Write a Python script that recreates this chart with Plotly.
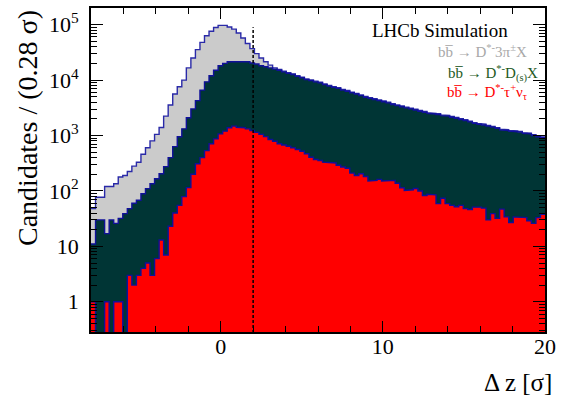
import numpy as np
import plotly.graph_objects as go

# ---- data: 100 bins of width 0.28 sigma from -8 to 20 ----
x_lo, x_hi, n_bins = -8.0, 20.0, 100

gray_counts = [48, 77, 77, 120, 120, 135, 178, 190, 225, 280,
               330, 460, 600, 800, 1050, 1400, 2240, 3550, 5600, 7600,
               10000, 16600, 25000, 35500, 48000, 63000, 76000, 89000, 97000, 97000,
               91000, 83000, 71000, 57500, 45700, 37000, 30000, 25000, 21400, 18600,
               16600, 15500, 14500, 13600, 12950, 12050, 11300, 10500, 10100, 9580,
               9170, 8550, 8030, 7620, 7310, 6800, 6490, 6080, 5770, 5410,
               5050, 4820, 4600, 4400, 4190, 4010, 3740, 3570, 3410, 3250,
               3110, 2970, 2830, 2710, 2590, 2520, 2470, 2360, 2310, 2200,
               2110, 2010, 1920, 1810, 1710, 1650, 1600, 1520, 1460, 1390,
               1300, 1270, 1240, 1210, 1180, 1130, 1100, 1030, 980, 940]

green_counts = [11, 30, 30, 17, 30, 26, 32, 39, 48, 60,
                68, 89, 110, 135, 166, 204, 275, 400, 630, 950,
                1320, 2090, 3020, 4270, 6600, 9300, 12000, 15100, 18200, 20000,
                21400, 21900, 21900, 21400, 21400, 20400, 19500, 18200, 17400, 16600,
                15800, 15100, 14100, 13200, 12600, 11700, 11000, 10200, 9800, 9300,
                8900, 8300, 7800, 7400, 7100, 6600, 6300, 5900, 5600, 5250,
                4900, 4680, 4470, 4270, 4070, 3890, 3630, 3470, 3310, 3160,
                3020, 2880, 2750, 2630, 2510, 2450, 2400, 2290, 2240, 2140,
                2050, 1950, 1860, 1760, 1660, 1600, 1550, 1480, 1420, 1350,
                1260, 1230, 1200, 1170, 1150, 1100, 1070, 1000, 950, 910]

red_counts = [1, 0, 0, 1, 0, 1, 1, 0, 3, 2,
              3, 4, 5, 3, 6, 13, 7, 23, 40, 55,
              79, 115, 200, 310, 400, 535, 710, 870, 1070, 1200,
              1380, 1480, 1410, 1380, 1320, 1230, 1140, 1050, 955, 850,
              790, 710, 675, 640, 600, 560, 520, 470, 405, 370,
              355, 330, 330, 320, 290, 270, 257, 210, 190, 204,
              182, 151, 155, 162, 151, 151, 155, 138, 114, 102,
              105, 111, 100, 83, 87, 85, 59, 74, 59, 55,
              52, 55, 48, 46, 51, 51, 49, 30, 39, 32,
              47, 34, 27, 34, 33, 33, 29, 26, 33, 38]

y_tick_vals = [1, 10, 100, 1000, 10000, 100000]
y_tick_text = ["1", "10", "10<sup>2</sup>", "10<sup>3</sup>", "10<sup>4</sup>", "10<sup>5</sup>"]
x_tick_vals = [0, 10, 20]
cut_value = 2.0

legend_lines = [
    ("bb\u0305 \u2192 D<sup>*-</sup>3\u03c0<sup>\u00b1</sup>X", "#a8a8a8"),
    ("bb\u0305 \u2192 D<sup>*-</sup>D<sub>(s)</sub>X", "#1e5a1e"),
    ("bb\u0305 \u2192 D<sup>*-</sup>\u03c4<sup>+</sup>\u03bd<sub>\u03c4</sub>", "#ff0000"),
]

FONT = "Liberation Serif, Times New Roman, Times, serif"
edges = np.linspace(x_lo, x_hi, n_bins + 1)
floor = 1e-3


def step_xy(vals):
    v = np.asarray(vals, dtype=float)
    v = np.where(v > 0, v, floor)
    xs = np.repeat(edges, 2)[1:-1]
    ys = np.repeat(v, 2)
    return xs, ys


fig = go.Figure()
for vals, fill, line in [(gray_counts, "#cbcbcb", "#2a2aa8"),
                         (green_counts, "#003535", "#10109a"),
                         (red_counts, "#ff0000", "#10109a")]:
    xs, ys = step_xy(vals)
    px = np.concatenate([[x_lo], xs, [x_hi]])
    py = np.concatenate([[floor], ys, [floor]])
    fig.add_trace(go.Scatter(x=px, y=py, mode="lines", fill="toself",
                             fillcolor=fill, line=dict(width=0),
                             hoverinfo="skip", showlegend=False))
    fig.add_trace(go.Scatter(x=xs, y=ys, mode="lines",
                             line=dict(color=line, width=1.4),
                             hoverinfo="skip", showlegend=False))

fig.add_trace(go.Scatter(x=[cut_value, cut_value], y=[floor, 9.0e4], mode="lines",
                         line=dict(color="black", width=1.5, dash="3px,2px"),
                         hoverinfo="skip", showlegend=False))

minor_y = [m * 10 ** e for e in range(-1, 6) for m in range(2, 10)]

fig.update_layout(
    width=562, height=395,
    margin=dict(l=91, r=12, t=6, b=63),
    paper_bgcolor="white", plot_bgcolor="white",
    font=dict(family=FONT, color="black", size=21),
    xaxis=dict(range=[x_lo, x_hi], tickmode="array", tickvals=x_tick_vals,
               ticks="inside", ticklen=11, tickwidth=1.3, tickcolor="black",
               minor=dict(ticks="inside", dtick=2, tick0=0, ticklen=6,
                          tickwidth=1.3, tickcolor="black"),
               showline=True, linecolor="black", linewidth=1.6, mirror="ticks",
               showgrid=False, zeroline=False, ticklabelstandoff=-6,
               tickfont=dict(size=22, family=FONT)),
    yaxis=dict(type="log", range=[np.log10(0.285), np.log10(2.0e5)],
               tickmode="array", tickvals=y_tick_vals, ticktext=y_tick_text,
               ticks="inside", ticklen=12, tickwidth=1.3, tickcolor="black",
               minor=dict(ticks="inside", tickmode="array", tickvals=minor_y,
                          ticklen=6, tickwidth=1.3, tickcolor="black"),
               showline=True, linecolor="black", linewidth=1.6, mirror="ticks",
               showgrid=False, zeroline=False, ticklabelstandoff=6,
               tickfont=dict(size=22, family=FONT)),
)

fig.add_annotation(text="Candidates / (0.28 \u03c3)", xref="paper", yref="paper",
                   x=-0.141, y=1.0, xanchor="center", yanchor="top", textangle=-90,
                   showarrow=False, font=dict(size=28, family=FONT))
fig.add_annotation(text="\u0394 z [\u03c3]", xref="paper", yref="paper",
                   x=1.02, y=-0.155, xanchor="right", yanchor="middle",
                   showarrow=False, font=dict(size=25, family=FONT))
fig.add_annotation(text="LHCb Simulation", xref="paper", yref="paper",
                   x=0.923, y=0.93, xanchor="right", yanchor="middle",
                   showarrow=False, font=dict(size=19, family=FONT))
for (txt, col), yy, xr in zip(legend_lines, [0.867, 0.798, 0.742], [0.965, 0.99, 0.965]):
    fig.add_annotation(text=txt, xref="paper", yref="paper", x=xr, y=yy,
                       xanchor="right", yanchor="middle", showarrow=False,
                       font=dict(size=15, family=FONT, color=col))

fig.write_html("out.html")
